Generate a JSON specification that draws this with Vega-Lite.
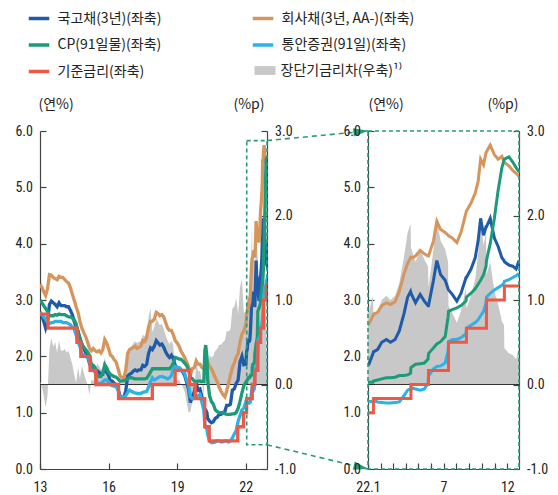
{
  "$schema": "https://vega.github.io/schema/vega-lite/v6.json",
  "background": "white",
  "padding": {"left": 14, "top": 6, "right": 4, "bottom": 4},
  "config": {
    "view": {"stroke": null},
    "font": "Noto Sans CJK KR",
    "axis": {
      "grid": false,
      "domainColor": "#444",
      "domainWidth": 1.2,
      "tickColor": "#444",
      "tickWidth": 1.2,
      "tickSize": -6,
      "labelPadding": 13.6,
      "labelOverlap": false,
      "labelFont": "Liberation Sans Narrow, Roboto Condensed, DejaVu Sans Condensed, sans-serif",
      "labelFontSize": 14,
      "labelColor": "#222",
      "titleFont": "Noto Sans CJK KR",
      "titleFontSize": 14,
      "titleFontWeight": "normal",
      "titleColor": "#222"
    },
    "legend": {"labelFont": "Noto Sans CJK KR", "labelFontSize": 14, "labelColor": "#222", "labelLimit": 400}
  },
  "datasets": {
    "rates": [
      {"t":"2013-01-01","K":2.78,"C":3.28,"P":3.00,"M":2.78,"S":0.03},
      {"t":"2013-02-01","K":2.72,"C":3.22,"P":2.95,"M":2.74,"S":-0.03},
      {"t":"2013-03-01","K":2.62,"C":3.15,"P":2.90,"M":2.70,"S":-0.13},
      {"t":"2013-04-01","K":2.50,"C":3.08,"P":2.85,"M":2.66,"S":-0.27},
      {"t":"2013-05-01","K":2.62,"C":3.20,"P":2.80,"M":2.60,"S":-0.13},
      {"t":"2013-06-01","K":2.92,"C":3.45,"P":2.72,"M":2.58,"S":0.42},
      {"t":"2013-07-01","K":2.98,"C":3.44,"P":2.72,"M":2.60,"S":0.55},
      {"t":"2013-08-01","K":2.95,"C":3.40,"P":2.72,"M":2.60,"S":0.45},
      {"t":"2013-09-01","K":2.92,"C":3.38,"P":2.74,"M":2.62,"S":0.50},
      {"t":"2013-10-01","K":2.88,"C":3.36,"P":2.73,"M":2.62,"S":0.38},
      {"t":"2013-11-01","K":2.95,"C":3.42,"P":2.75,"M":2.62,"S":0.52},
      {"t":"2013-12-01","K":2.90,"C":3.40,"P":2.74,"M":2.62,"S":0.40},
      {"t":"2014-01-01","K":2.90,"C":3.40,"P":2.74,"M":2.60,"S":0.40},
      {"t":"2014-02-01","K":2.90,"C":3.36,"P":2.74,"M":2.60,"S":0.42},
      {"t":"2014-03-01","K":2.88,"C":3.33,"P":2.72,"M":2.60,"S":0.38},
      {"t":"2014-04-01","K":2.88,"C":3.30,"P":2.70,"M":2.58,"S":0.40},
      {"t":"2014-05-01","K":2.82,"C":3.22,"P":2.70,"M":2.56,"S":0.32},
      {"t":"2014-06-01","K":2.74,"C":3.10,"P":2.68,"M":2.52,"S":0.24},
      {"t":"2014-07-01","K":2.62,"C":3.00,"P":2.65,"M":2.48,"S":0.12},
      {"t":"2014-08-01","K":2.52,"C":2.88,"P":2.58,"M":2.38,"S":0.02},
      {"t":"2014-09-01","K":2.45,"C":2.78,"P":2.42,"M":2.25,"S":0.20},
      {"t":"2014-10-01","K":2.32,"C":2.62,"P":2.32,"M":2.18,"S":0.07},
      {"t":"2014-11-01","K":2.22,"C":2.50,"P":2.20,"M":2.03,"S":0.22},
      {"t":"2014-12-01","K":2.14,"C":2.42,"P":2.16,"M":2.03,"S":0.14},
      {"t":"2015-01-01","K":2.06,"C":2.35,"P":2.12,"M":2.00,"S":0.06},
      {"t":"2015-02-01","K":2.00,"C":2.25,"P":2.08,"M":1.98,"S":0.00},
      {"t":"2015-03-01","K":1.88,"C":2.15,"P":2.02,"M":1.92,"S":-0.12},
      {"t":"2015-04-01","K":1.80,"C":2.10,"P":1.86,"M":1.75,"S":0.05},
      {"t":"2015-05-01","K":1.80,"C":2.14,"P":1.84,"M":1.75,"S":0.05},
      {"t":"2015-06-01","K":1.76,"C":2.10,"P":1.80,"M":1.72,"S":0.01},
      {"t":"2015-07-01","K":1.75,"C":2.08,"P":1.66,"M":1.52,"S":0.25},
      {"t":"2015-08-01","K":1.72,"C":2.10,"P":1.64,"M":1.52,"S":0.22},
      {"t":"2015-09-01","K":1.68,"C":2.06,"P":1.64,"M":1.52,"S":0.18},
      {"t":"2015-10-01","K":1.68,"C":2.12,"P":1.70,"M":1.55,"S":0.18},
      {"t":"2015-11-01","K":1.82,"C":2.30,"P":1.85,"M":1.58,"S":0.32},
      {"t":"2015-12-01","K":1.72,"C":2.24,"P":1.80,"M":1.58,"S":0.22},
      {"t":"2016-01-01","K":1.66,"C":2.14,"P":1.72,"M":1.55,"S":0.16},
      {"t":"2016-02-01","K":1.56,"C":2.02,"P":1.68,"M":1.50,"S":0.06},
      {"t":"2016-03-01","K":1.56,"C":2.00,"P":1.66,"M":1.48,"S":0.06},
      {"t":"2016-04-01","K":1.52,"C":1.94,"P":1.64,"M":1.47,"S":0.02},
      {"t":"2016-05-01","K":1.50,"C":1.90,"P":1.63,"M":1.46,"S":0.00},
      {"t":"2016-06-01","K":1.42,"C":1.78,"P":1.60,"M":1.40,"S":-0.08},
      {"t":"2016-07-01","K":1.30,"C":1.66,"P":1.56,"M":1.26,"S":0.05},
      {"t":"2016-08-01","K":1.26,"C":1.62,"P":1.56,"M":1.27,"S":0.01},
      {"t":"2016-09-01","K":1.28,"C":1.62,"P":1.57,"M":1.28,"S":0.03},
      {"t":"2016-10-01","K":1.38,"C":1.75,"P":1.58,"M":1.30,"S":0.13},
      {"t":"2016-11-01","K":1.65,"C":2.05,"P":1.60,"M":1.36,"S":0.40},
      {"t":"2016-12-01","K":1.68,"C":2.12,"P":1.62,"M":1.40,"S":0.43},
      {"t":"2017-01-01","K":1.70,"C":2.14,"P":1.62,"M":1.38,"S":0.45},
      {"t":"2017-02-01","K":1.74,"C":2.16,"P":1.61,"M":1.36,"S":0.49},
      {"t":"2017-03-01","K":1.76,"C":2.18,"P":1.60,"M":1.35,"S":0.51},
      {"t":"2017-04-01","K":1.74,"C":2.14,"P":1.60,"M":1.34,"S":0.49},
      {"t":"2017-05-01","K":1.76,"C":2.16,"P":1.60,"M":1.34,"S":0.51},
      {"t":"2017-06-01","K":1.76,"C":2.18,"P":1.60,"M":1.34,"S":0.51},
      {"t":"2017-07-01","K":1.84,"C":2.28,"P":1.60,"M":1.36,"S":0.59},
      {"t":"2017-08-01","K":1.82,"C":2.26,"P":1.60,"M":1.37,"S":0.57},
      {"t":"2017-09-01","K":1.86,"C":2.34,"P":1.61,"M":1.38,"S":0.61},
      {"t":"2017-10-01","K":2.05,"C":2.52,"P":1.66,"M":1.45,"S":0.80},
      {"t":"2017-11-01","K":2.15,"C":2.62,"P":1.72,"M":1.55,"S":0.90},
      {"t":"2017-12-01","K":2.12,"C":2.62,"P":1.78,"M":1.62,"S":0.62},
      {"t":"2018-01-01","K":2.18,"C":2.66,"P":1.78,"M":1.58,"S":0.68},
      {"t":"2018-02-01","K":2.28,"C":2.78,"P":1.78,"M":1.60,"S":0.78},
      {"t":"2018-03-01","K":2.24,"C":2.76,"P":1.78,"M":1.62,"S":0.74},
      {"t":"2018-04-01","K":2.20,"C":2.72,"P":1.78,"M":1.64,"S":0.70},
      {"t":"2018-05-01","K":2.22,"C":2.74,"P":1.78,"M":1.64,"S":0.72},
      {"t":"2018-06-01","K":2.16,"C":2.70,"P":1.78,"M":1.63,"S":0.66},
      {"t":"2018-07-01","K":2.08,"C":2.60,"P":1.78,"M":1.62,"S":0.58},
      {"t":"2018-08-01","K":2.02,"C":2.50,"P":1.78,"M":1.60,"S":0.52},
      {"t":"2018-09-01","K":1.98,"C":2.46,"P":1.78,"M":1.62,"S":0.48},
      {"t":"2018-10-01","K":2.02,"C":2.46,"P":1.82,"M":1.66,"S":0.52},
      {"t":"2018-11-01","K":1.96,"C":2.38,"P":1.88,"M":1.78,"S":0.46},
      {"t":"2018-12-01","K":1.84,"C":2.28,"P":1.98,"M":1.82,"S":0.09},
      {"t":"2019-01-01","K":1.80,"C":2.24,"P":1.97,"M":1.80,"S":0.05},
      {"t":"2019-02-01","K":1.80,"C":2.18,"P":1.95,"M":1.80,"S":0.05},
      {"t":"2019-03-01","K":1.76,"C":2.10,"P":1.95,"M":1.77,"S":0.01},
      {"t":"2019-04-01","K":1.72,"C":2.04,"P":1.92,"M":1.73,"S":-0.03},
      {"t":"2019-05-01","K":1.66,"C":1.98,"P":1.88,"M":1.70,"S":-0.09},
      {"t":"2019-06-01","K":1.54,"C":1.90,"P":1.84,"M":1.58,"S":-0.21},
      {"t":"2019-07-01","K":1.42,"C":1.82,"P":1.76,"M":1.50,"S":-0.33},
      {"t":"2019-08-01","K":1.18,"C":1.68,"P":1.62,"M":1.28,"S":-0.32},
      {"t":"2019-09-01","K":1.30,"C":1.78,"P":1.60,"M":1.25,"S":-0.20},
      {"t":"2019-10-01","K":1.36,"C":1.80,"P":1.56,"M":1.25,"S":-0.14},
      {"t":"2019-11-01","K":1.52,"C":1.92,"P":1.55,"M":1.30,"S":0.27},
      {"t":"2019-12-01","K":1.40,"C":1.86,"P":1.56,"M":1.30,"S":0.15},
      {"t":"2020-01-01","K":1.42,"C":1.86,"P":1.56,"M":1.32,"S":0.17},
      {"t":"2020-02-01","K":1.28,"C":1.80,"P":1.55,"M":1.18,"S":0.03},
      {"t":"2020-03-01","K":1.12,"C":1.78,"P":1.55,"M":1.05,"S":-0.13},
      {"t":"2020-03-18","K":1.05,"C":1.82,"P":2.10,"M":0.80,"S":0.30},
      {"t":"2020-04-01","K":1.05,"C":1.92,"P":2.20,"M":0.75,"S":0.30},
      {"t":"2020-04-20","K":1.00,"C":1.95,"P":2.00,"M":0.70,"S":0.25},
      {"t":"2020-05-01","K":0.90,"C":1.90,"P":1.60,"M":0.62,"S":0.15},
      {"t":"2020-06-01","K":0.85,"C":1.82,"P":1.30,"M":0.50,"S":0.35},
      {"t":"2020-07-01","K":0.82,"C":1.78,"P":1.20,"M":0.47,"S":0.32},
      {"t":"2020-08-01","K":0.84,"C":1.70,"P":1.15,"M":0.47,"S":0.34},
      {"t":"2020-09-01","K":0.90,"C":1.62,"P":1.05,"M":0.48,"S":0.40},
      {"t":"2020-10-01","K":0.92,"C":1.55,"P":1.02,"M":0.50,"S":0.42},
      {"t":"2020-11-01","K":0.97,"C":1.45,"P":1.00,"M":0.50,"S":0.47},
      {"t":"2020-12-01","K":0.97,"C":1.38,"P":1.00,"M":0.48,"S":0.47},
      {"t":"2021-01-01","K":1.00,"C":1.32,"P":1.00,"M":0.48,"S":0.50},
      {"t":"2021-02-01","K":1.02,"C":1.28,"P":0.98,"M":0.50,"S":0.52},
      {"t":"2021-03-01","K":1.13,"C":1.38,"P":0.97,"M":0.50,"S":0.63},
      {"t":"2021-04-01","K":1.13,"C":1.52,"P":0.97,"M":0.48,"S":0.63},
      {"t":"2021-05-01","K":1.15,"C":1.66,"P":0.97,"M":0.50,"S":0.65},
      {"t":"2021-06-01","K":1.40,"C":1.80,"P":0.98,"M":0.55,"S":0.90},
      {"t":"2021-07-01","K":1.42,"C":1.88,"P":0.98,"M":0.62,"S":0.92},
      {"t":"2021-08-01","K":1.52,"C":1.98,"P":1.00,"M":0.68,"S":1.02},
      {"t":"2021-09-01","K":1.58,"C":2.05,"P":1.08,"M":0.85,"S":0.83},
      {"t":"2021-10-01","K":1.90,"C":2.25,"P":1.20,"M":0.95,"S":1.15},
      {"t":"2021-11-01","K":2.00,"C":2.40,"P":1.35,"M":1.05,"S":1.25},
      {"t":"2021-12-01","K":1.85,"C":2.45,"P":1.48,"M":1.08,"S":0.85},
      {"t":"2022-01-03","K":1.86,"C":2.57,"P":1.54,"M":1.20,"S":0.86},
      {"t":"2022-01-13","K":2.05,"C":2.72,"P":1.54,"M":1.20,"S":1.05},
      {"t":"2022-01-14","K":2.08,"C":2.75,"P":1.56,"M":1.22,"S":0.83},
      {"t":"2022-01-24","K":2.12,"C":2.78,"P":1.58,"M":1.19,"S":0.87},
      {"t":"2022-02-03","K":2.25,"C":2.90,"P":1.60,"M":1.18,"S":1.00},
      {"t":"2022-02-14","K":2.30,"C":2.95,"P":1.62,"M":1.17,"S":1.05},
      {"t":"2022-02-24","K":2.25,"C":2.92,"P":1.62,"M":1.17,"S":1.00},
      {"t":"2022-03-07","K":2.30,"C":2.97,"P":1.63,"M":1.18,"S":1.05},
      {"t":"2022-03-17","K":2.45,"C":3.15,"P":1.66,"M":1.19,"S":1.20},
      {"t":"2022-03-28","K":2.75,"C":3.45,"P":1.66,"M":1.30,"S":1.50},
      {"t":"2022-04-06","K":3.05,"C":3.65,"P":1.67,"M":1.40,"S":1.80},
      {"t":"2022-04-13","K":3.15,"C":3.75,"P":1.70,"M":1.42,"S":1.90},
      {"t":"2022-04-14","K":3.12,"C":3.74,"P":1.80,"M":1.44,"S":1.62},
      {"t":"2022-04-25","K":2.95,"C":3.78,"P":1.86,"M":1.42,"S":1.45},
      {"t":"2022-05-06","K":3.10,"C":3.88,"P":1.87,"M":1.40,"S":1.60},
      {"t":"2022-05-16","K":2.98,"C":3.82,"P":1.88,"M":1.42,"S":1.48},
      {"t":"2022-05-25","K":2.90,"C":3.78,"P":1.95,"M":1.52,"S":1.40},
      {"t":"2022-05-26","K":2.90,"C":3.78,"P":2.05,"M":1.65,"S":1.15},
      {"t":"2022-06-07","K":3.35,"C":4.05,"P":2.15,"M":1.78,"S":1.60},
      {"t":"2022-06-15","K":3.70,"C":4.40,"P":2.22,"M":1.82,"S":1.95},
      {"t":"2022-06-24","K":3.45,"C":4.25,"P":2.26,"M":1.83,"S":1.70},
      {"t":"2022-07-05","K":3.35,"C":4.20,"P":2.35,"M":1.88,"S":1.60},
      {"t":"2022-07-12","K":3.20,"C":4.15,"P":2.70,"M":2.10,"S":1.45},
      {"t":"2022-07-13","K":3.18,"C":4.14,"P":2.80,"M":2.26,"S":0.93},
      {"t":"2022-07-22","K":3.10,"C":4.10,"P":2.83,"M":2.30,"S":0.85},
      {"t":"2022-08-02","K":2.98,"C":4.02,"P":2.86,"M":2.30,"S":0.73},
      {"t":"2022-08-12","K":3.12,"C":4.20,"P":2.90,"M":2.33,"S":0.87},
      {"t":"2022-08-24","K":3.40,"C":4.55,"P":2.98,"M":2.40,"S":1.15},
      {"t":"2022-08-25","K":3.40,"C":4.58,"P":3.05,"M":2.50,"S":0.90},
      {"t":"2022-09-05","K":3.55,"C":4.72,"P":3.12,"M":2.55,"S":1.05},
      {"t":"2022-09-15","K":3.75,"C":4.90,"P":3.20,"M":2.60,"S":1.25},
      {"t":"2022-09-22","K":4.05,"C":5.10,"P":3.28,"M":2.65,"S":1.55},
      {"t":"2022-09-28","K":4.45,"C":5.50,"P":3.35,"M":2.72,"S":1.95},
      {"t":"2022-10-05","K":4.15,"C":5.40,"P":3.45,"M":2.80,"S":1.65},
      {"t":"2022-10-11","K":4.30,"C":5.62,"P":3.60,"M":2.95,"S":1.80},
      {"t":"2022-10-12","K":4.30,"C":5.63,"P":3.70,"M":3.05,"S":1.30},
      {"t":"2022-10-21","K":4.45,"C":5.75,"P":4.00,"M":3.12,"S":1.45},
      {"t":"2022-10-31","K":4.10,"C":5.58,"P":4.45,"M":3.18,"S":1.10},
      {"t":"2022-11-09","K":3.95,"C":5.50,"P":4.95,"M":3.22,"S":0.95},
      {"t":"2022-11-18","K":3.75,"C":5.55,"P":5.35,"M":3.26,"S":0.75},
      {"t":"2022-11-23","K":3.70,"C":5.45,"P":5.48,"M":3.30,"S":0.70},
      {"t":"2022-11-24","K":3.68,"C":5.44,"P":5.50,"M":3.33,"S":0.43},
      {"t":"2022-12-05","K":3.62,"C":5.38,"P":5.54,"M":3.36,"S":0.37},
      {"t":"2022-12-14","K":3.60,"C":5.30,"P":5.45,"M":3.40,"S":0.35},
      {"t":"2022-12-22","K":3.55,"C":5.25,"P":5.35,"M":3.43,"S":0.30},
      {"t":"2022-12-29","K":3.70,"C":5.20,"P":5.28,"M":3.47,"S":0.45}
    ],
    "base": [
      {"t":"2013-01-01","R":2.75},{"t":"2013-05-09","R":2.50},{"t":"2014-08-14","R":2.25},
      {"t":"2014-10-15","R":2.00},{"t":"2015-03-12","R":1.75},{"t":"2015-06-11","R":1.50},
      {"t":"2016-06-09","R":1.25},{"t":"2017-11-30","R":1.50},{"t":"2018-11-30","R":1.75},
      {"t":"2019-07-18","R":1.50},{"t":"2019-10-16","R":1.25},{"t":"2020-03-16","R":0.75},
      {"t":"2020-05-28","R":0.50},{"t":"2021-08-26","R":0.75},{"t":"2021-11-25","R":1.00},
      {"t":"2022-01-14","R":1.25},{"t":"2022-04-14","R":1.50},{"t":"2022-05-26","R":1.75},
      {"t":"2022-07-13","R":2.25},{"t":"2022-08-25","R":2.50},{"t":"2022-10-12","R":3.00},
      {"t":"2022-11-24","R":3.25},{"t":"2022-12-29","R":3.25}
    ],
    "zoomBox": [{"t":"2022-01-16","t2":"2022-12-06","y":0.43,"y2":5.83}],
    "links": [
      {"id":"top","t":"2022-12-06","y":5.83},{"id":"top","t":"2027-05-07","y":6.0},
      {"id":"bottom","t":"2022-12-06","y":0.43},{"id":"bottom","t":"2027-05-07","y":0.0}
    ]
  },
  "spacing": 101,
  "bounds": "flush",
  "hconcat": [
    {
      "width": 227,
      "height": 338,
      "layer": [
        {
          "layer": [
            {
              "data": {"name": "rates"},
              "mark": {"type": "area", "clip": true},
              "encoding": {
                "x": {"field": "t", "type": "temporal",
                  "scale": {"domain": [1356998400000, 1670284800000]},
                  "axis": {"values": [1356998400000, 1451606400000, 1546300800000, 1640995200000], "tickCount": 20,
                    "labelExpr": "utcFormat(datum.value, '%y')", "title": null, "labelFlush": false, "labelOverlap": false, "labelPadding": 17}},
                "y": {"field": "S", "type": "quantitative",
                  "scale": {"domain": [-1, 3], "nice": false, "zero": false},
                  "axis": {"orient": "right", "values": [-1, 0, 1, 2, 3],
                    "labelExpr": "replace(format(datum.value, '.1f'), '\u2212', '-')",
                    "title": "(%p)", "titleAngle": 0, "titleAlign": "right", "titleBaseline": "middle", "titleX": -3, "titleY": -27}},
                "fill": {"datum": "장단기금리차(우축)¹⁾", "type": "nominal",
                  "scale": {"range": ["#c8c8c8"]},
                  "legend": {"orient": "none", "legendX": 214.5, "legendY": -71, "title": null,
                    "symbolType": "M-1,-0.42H1V0.42H-1Z", "symbolSize": 440, "symbolStrokeWidth": 0, "labelOffset": 5}}
              }
            },
            {
              "data": {"values": [{}]},
              "mark": {"type": "rule", "color": "#333", "strokeWidth": 1.2},
              "encoding": {"y": {"datum": 0, "type": "quantitative"}}
            }
          ]
        },
        {
          "layer": [
            {
              "data": {"name": "rates"},
              "transform": [{"fold": ["K", "C", "P", "M"], "as": ["s", "v"]}],
              "mark": {"type": "line", "strokeWidth": 3.3, "clip": true},
              "encoding": {
                "x": {"field": "t", "type": "temporal",
                  "scale": {"domain": [1356998400000, 1670284800000]}},
                "y": {"field": "v", "type": "quantitative",
                  "scale": {"domain": [0, 6], "nice": false, "zero": false},
                  "axis": {"orient": "left", "values": [0, 1, 2, 3, 4, 5, 6], "format": ".1f",
                    "title": "(연%)", "titleAngle": 0, "titleAlign": "left", "titleBaseline": "middle", "titleX": -2, "titleY": -27}},
                "color": {"field": "s", "type": "nominal",
                  "scale": {"domain": ["K", "P", "R", "C", "M"], "range": ["#1f5ba8", "#1c9b79", "#ee5844", "#d6955c", "#2cb2e6"]},
                  "legend": {"orient": "none", "legendX": -13, "legendY": -124.5, "title": null, "columns": 2,
                    "columnPadding": 83, "rowPadding": 7.5, "symbolType": "stroke", "symbolSize": 420,
                    "symbolStrokeWidth": 3.5, "labelOffset": 6.5,
                    "labelExpr": "datum.value == 'K' ? '국고채(3년)(좌축)' : datum.value == 'C' ? '회사채(3년, AA-)(좌축)' : datum.value == 'P' ? 'CP(91일물)(좌축)' : datum.value == 'M' ? '통안증권(91일)(좌축)' : '기준금리(좌축)'"}}
              }
            },
            {
              "data": {"name": "base"},
              "mark": {"type": "line", "interpolate": "step-after", "strokeWidth": 3.3, "clip": true},
              "encoding": {
                "x": {"field": "t", "type": "temporal"},
                "y": {"field": "R", "type": "quantitative"},
                "color": {"datum": "R", "type": "nominal"}
              }
            },
            {
              "data": {"name": "zoomBox"},
              "mark": {"type": "rect", "fill": "white", "fillOpacity": 0, "stroke": "#2a9a7a", "strokeWidth": 1.6, "strokeDash": [4, 3], "clip": false},
              "encoding": {
                "x": {"field": "t", "type": "temporal"},
                "x2": {"field": "t2"},
                "y": {"field": "y", "type": "quantitative"},
                "y2": {"field": "y2"}
              }
            },
            {
              "data": {"name": "links"},
              "mark": {"type": "line", "color": "#2a9a7a", "strokeWidth": 1.6, "strokeDash": [5, 4], "clip": false},
              "encoding": {
                "x": {"field": "t", "type": "temporal"},
                "y": {"field": "y", "type": "quantitative"},
                "detail": {"field": "id", "type": "nominal"}
              }
            },
            {
              "data": {"values": [{"t": "2027-01-14", "y": 5.99}]},
              "mark": {"type": "point", "shape": "M-1,-0.55L1,0L-1,0.55Z", "filled": true, "size": 225, "color": "#2a9a7a", "opacity": 1, "angle": -5.5, "clip": false},
              "encoding": {"x": {"field": "t", "type": "temporal"}, "y": {"field": "y", "type": "quantitative"}}
            },
            {
              "data": {"values": [{"t": "2027-01-17", "y": 0.03}]},
              "mark": {"type": "point", "shape": "M-1,-0.55L1,0L-1,0.55Z", "filled": true, "size": 225, "color": "#2a9a7a", "opacity": 1, "angle": 13, "clip": false},
              "encoding": {"x": {"field": "t", "type": "temporal"}, "y": {"field": "y", "type": "quantitative"}}
            }
          ]
        }
      ],
      "resolve": {"scale": {"y": "independent"}}
    },
    {
      "width": 151,
      "height": 338,
      "layer": [
        {
          "layer": [
            {
              "data": {"name": "rates"},
              "mark": {"type": "area", "clip": true},
              "encoding": {
                "x": {"field": "t", "type": "temporal",
                  "scale": {"domain": [1640995200000, 1672272000000]},
                  "axis": {"values": [1640995200000, 1643673600000, 1646092800000, 1648771200000, 1651363200000, 1654041600000,
                                      1656633600000, 1659312000000, 1661990400000, 1664582400000, 1667260800000, 1669852800000],
                    "tickCount": 24,
                    "labelExpr": "utcFormat(datum.value, '%m') == '01' ? '22.1' : utcFormat(datum.value, '%m') == '07' ? '7' : utcFormat(datum.value, '%m') == '12' ? '12' : ''",
                    "title": null, "labelFlush": false, "labelOverlap": false, "labelPadding": 17}},
                "y": {"field": "S", "type": "quantitative",
                  "scale": {"domain": [-1, 3], "nice": false, "zero": false},
                  "axis": {"orient": "right", "values": [-1, 0, 1, 2, 3],
                    "labelExpr": "replace(format(datum.value, '.1f'), '\u2212', '-')",
                    "title": "(%p)", "titleAngle": 0, "titleAlign": "right", "titleBaseline": "middle", "titleX": -1, "titleY": -27}},
                "fill": {"datum": "장단기금리차(우축)¹⁾", "type": "nominal"}
              }
            },
            {
              "data": {"values": [{}]},
              "mark": {"type": "rule", "color": "#333", "strokeWidth": 1.2},
              "encoding": {"y": {"datum": 0, "type": "quantitative"}}
            }
          ]
        },
        {
          "layer": [
            {
              "data": {"name": "rates"},
              "transform": [{"fold": ["K", "C", "P", "M"], "as": ["s", "v"]}],
              "mark": {"type": "line", "strokeWidth": 3, "clip": true},
              "encoding": {
                "x": {"field": "t", "type": "temporal",
                  "scale": {"domain": [1640995200000, 1672272000000]}},
                "y": {"field": "v", "type": "quantitative",
                  "scale": {"domain": [0, 6], "nice": false, "zero": false},
                  "axis": {"orient": "left", "values": [0, 1, 2, 3, 4, 5, 6], "format": ".1f",
                    "title": "(연%)", "titleAngle": 0, "titleAlign": "left", "titleBaseline": "middle", "titleX": 0, "titleY": -27}},
                "color": {"field": "s", "type": "nominal"}
              }
            },
            {
              "data": {"name": "base"},
              "mark": {"type": "line", "interpolate": "step-after", "strokeWidth": 3, "clip": true},
              "encoding": {
                "x": {"field": "t", "type": "temporal"},
                "y": {"field": "R", "type": "quantitative"},
                "color": {"datum": "R", "type": "nominal"}
              }
            },
            {
              "data": {"values": [{}]},
              "mark": {"type": "rect", "fill": "white", "fillOpacity": 0, "stroke": "#2a9a7a", "strokeWidth": 1.6, "strokeDash": [4, 3]},
              "encoding": {
                "x": {"datum": 1640995200000, "type": "temporal"},
                "x2": {"datum": 1672272000000},
                "y": {"datum": 0, "type": "quantitative"},
                "y2": {"datum": 6}
              }
            }
          ]
        }
      ],
      "resolve": {"scale": {"y": "independent"}}
    }
  ]
}
